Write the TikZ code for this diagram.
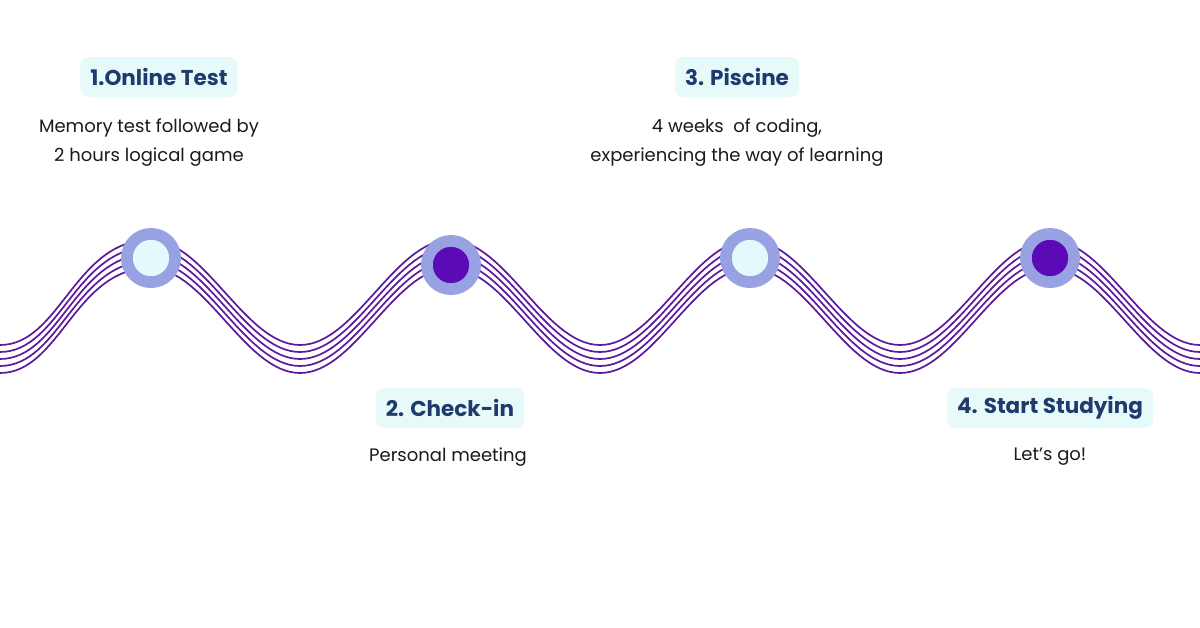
\documentclass[tikz,border=0pt]{standalone}
\usepackage{fontspec}
\setmainfont{Poppins}
\definecolor{wavecol}{HTML}{5C1A9C}
\definecolor{ringcol}{HTML}{98A2E3}
\definecolor{palecol}{HTML}{E3FAFC}
\definecolor{darkcol}{HTML}{5B0BB5}
\definecolor{boxcol}{HTML}{E6FAFA}
\definecolor{headcol}{HTML}{1F3B6E}
\definecolor{bodycol}{HTML}{1A1A1A}
\begin{document}
\begin{tikzpicture}[x=1pt, y=-1pt,
    wave/.style={draw=wavecol, line width=1.7pt},
    stop/.style={circle, draw=ringcol, line width=11.7pt, inner sep=0pt, minimum size=48.3pt},
    headbox/.style={fill=boxcol, rounded corners=8pt, inner xsep=10pt, minimum height=40pt,
        text=headcol, font=\fontsize{21.5}{24}\selectfont\bfseries},
    bodytext/.style={text=bodycol, align=center, font=\fontsize{18}{29}\selectfont}]
			%%%%% START %%%%%
			\useasboundingbox[fill=white] (0,0) rectangle (1200,627);
			
			% five lines of the wave
			\foreach \k in {0,...,4}
				\draw[wave, yshift=-\k*7pt] (0,345) .. controls (60,345) and (75,240) .. (150,240)
					\foreach \p in {150,450,750} { .. controls (\p+55,240) and (\p+95,345) .. (\p+150,345)
					.. controls (\p+205,345) and (\p+245,240) .. (\p+300,240)}
					.. controls (1105,240) and (1145,345) .. (1200,345);
			
			\node[stop, fill=palecol] (stop1) at (151,258) {};
			\node[stop, fill=darkcol] (stop2) at (451,265) {};
			\node[stop, fill=palecol] (stop3) at (750,258) {};
			\node[stop, fill=darkcol] (stop4) at (1050,258) {};
			
			\node[headbox] (head1) at (159,77) {1.Online Test};
			\node[bodytext] (body1) at (149,142.5) {Memory test followed by\\2 hours logical game};
			
			\node[headbox] (head2) at (450,408) {2. Check-in};
			\node[bodytext] (body2) at (448,457) {Personal meeting};
			
			\node[headbox] (head3) at (737,77) {3. Piscine};
			\node[bodytext] (body3) at (737,142.5) {4 weeks\ \ of coding,\\experiencing the way of learning};
			
			\node[headbox] (head4) at (1050,408) {4. Start Studying};
			\node[bodytext] (body4) at (1050,457) {Let’s go!};
			%%%%% END %%%%%
\end{tikzpicture}
\end{document}
